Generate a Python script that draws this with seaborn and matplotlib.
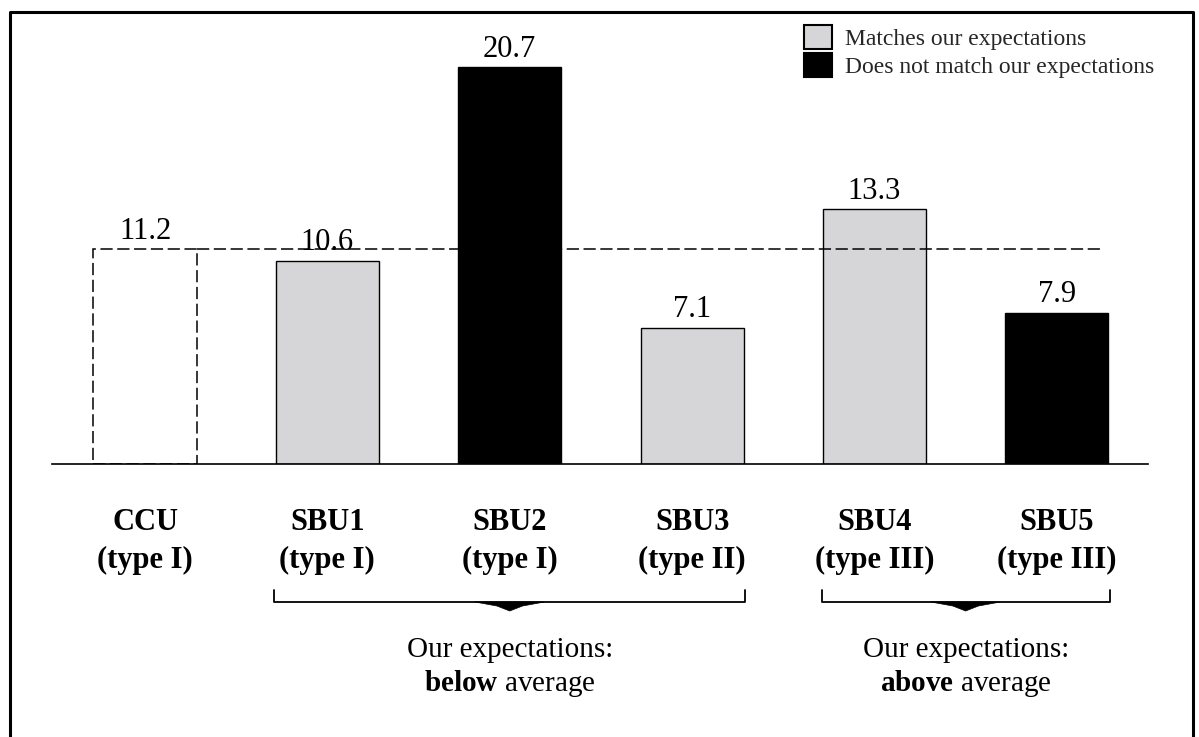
import matplotlib
matplotlib.use("Agg")
import matplotlib.pyplot as plt
import matplotlib.transforms as mtransforms
from matplotlib.lines import Line2D
from matplotlib.patches import Patch, Polygon
import seaborn as sns
import pandas as pd

# chart data
units = ["CCU", "SBU1", "SBU2", "SBU3", "SBU4", "SBU5"]
unit_types = ["type I", "type I", "type I", "type II", "type III", "type III"]
scores = [11.2, 10.6, 20.7, 7.1, 13.3, 7.9]
status = ["reference", "match", "no match", "match", "match", "no match"]
# (bold word, first unit index, last unit index)
groups = [("below", 1, 3), ("above", 4, 5)]
legend_labels = ["Matches our expectations", "Does not match our expectations"]

GRAY = "#d6d6d8"
colors = {"reference": "white", "match": GRAY, "no match": "black"}
DASH = (0, (8, 3))

sns.set_theme(style="white")
plt.rcParams["font.family"] = ["Liberation Serif", "DejaVu Serif"]
plt.rcParams["mathtext.fontset"] = "custom"
plt.rcParams["mathtext.rm"] = "Liberation Serif"
plt.rcParams["mathtext.bf"] = "Liberation Serif:bold"

W, H = 1199, 737
fig = plt.figure(figsize=(W / 100, H / 100), dpi=100)
ax = fig.add_axes([52 / W, 1 - 464 / H, 1096 / W, (464 - 22) / H])

df = pd.DataFrame({
    "label": [f"{u}\n({t})" for u, t in zip(units, unit_types)],
    "score": scores,
    "status": status,
})

sns.barplot(data=df, x="label", y="score", hue="status",
            hue_order=["reference", "match", "no match"], palette=colors,
            dodge=False, width=0.565, edgecolor="black", linewidth=1,
            legend=False, ax=ax)

# CCU bar drawn as dashed outline
for p in ax.patches:
    if abs(p.get_x() + p.get_width() / 2) < 0.1:
        p.set_facecolor("white")
        p.set_linestyle(DASH)
        p.set_linewidth(1.1)

ax.set_xlim(-0.51, 5.5)
ax.set_ylim(0, 23.05)
ax.set_yticks([])
ax.set_xlabel("")
ax.set_ylabel("")
for s in ["top", "left", "right"]:
    ax.spines[s].set_visible(False)
ax.spines["bottom"].set_color("black")
ax.spines["bottom"].set_linewidth(1.2)
ax.tick_params(axis="x", length=0, pad=32)
for t in ax.get_xticklabels():
    t.set_fontweight("bold")
    t.set_fontsize(22)
    t.set_linespacing(1.38)
    t.set_color("black")

# average line from CCU
ax.hlines(scores[0], 0.2825, 5.25, colors="black", linewidth=1.1, linestyles=DASH)

for i, v in enumerate(scores):
    ax.annotate(f"{v}", (i, v), xytext=(0, 7.5), textcoords="offset points",
                ha="center", va="baseline", fontsize=22, color="black")

# brackets below categories
blend = mtransforms.blended_transform_factory(ax.transData, fig.transFigure)
fy = lambda px: 1 - px / H
for word, a, b in groups:
    x0, x1 = a - 0.29, b + 0.29
    xc = (x0 + x1) / 2
    ax.plot([x0, x0, x1, x1], [fy(590), fy(602), fy(602), fy(590)],
            color="black", lw=1.3, transform=blend, clip_on=False)
    ax.add_patch(Polygon([(xc - 0.19, fy(602)), (xc - 0.07, fy(606)), (xc, fy(611)),
                          (xc + 0.07, fy(606)), (xc + 0.19, fy(602))],
                         closed=True, facecolor="black", edgecolor="black",
                         lw=0.5, transform=blend, clip_on=False))
    ax.text(xc, fy(657), "Our expectations:", ha="center", va="baseline",
            fontsize=21, color="black", transform=blend)
    ax.text(xc, fy(691), rf"$\mathbf{{{word}}}$ average", ha="center",
            va="baseline", fontsize=21, color="black", transform=blend)

handles = [Patch(facecolor=GRAY, edgecolor="black", linewidth=1.5, label=legend_labels[0]),
           Patch(facecolor="black", edgecolor="black", linewidth=1.5, label=legend_labels[1])]
fig.legend(handles=handles, loc="upper left", bbox_to_anchor=(804 / W, 1 - 25 / H),
           frameon=False, fontsize=17, handlelength=1.2, handleheight=1.2,
           handletextpad=0.55, labelspacing=0.12, borderpad=0, borderaxespad=0)

# outer frame (open at the bottom)
fig.add_artist(Line2D([10 / W, 10 / W, 1193 / W, 1193 / W], [0, fy(12), fy(12), 0],
                      transform=fig.transFigure, color="black", lw=2.2))

fig.savefig("out.png", dpi=100)
